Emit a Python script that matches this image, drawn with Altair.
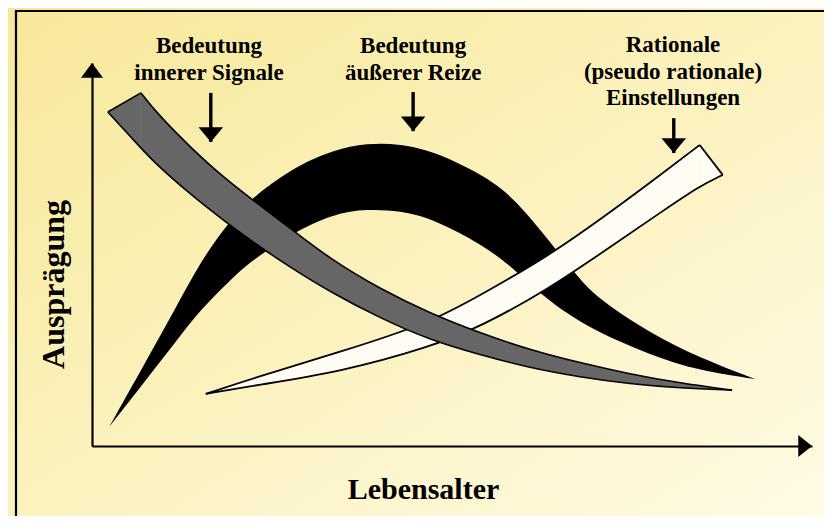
import altair as alt
import pandas as pd

# ---- data (x = Lebensalter 0-100, y = Ausprägung 0-100) ----
GRAY_X = [6.8, 9.0, 13.6, 18.2, 22.9, 27.5, 33.1, 40.0, 46.9, 53.9, 60.8, 67.8, 74.7, 81.7, 88.9]
GRAY_UPPER = [92.2, 86.9, 78.1, 70.2, 63.4, 56.9, 48.8, 41.0, 34.7, 29.5, 25.1, 21.7, 18.8, 16.4, 14.6]
GRAY_LOWER = [77.8, 73.4, 65.8, 59.0, 52.5, 46.7, 40.2, 33.4, 27.7, 23.8, 20.4, 18.0, 16.2, 15.1, 14.6]
GRAY_CAP_X = [2.2, 6.8]
GRAY_CAP_UPPER = [87.2, 92.2]
GRAY_CAP_LOWER = [87.2, 77.8]

BLACK_X = [2.4, 7.6, 11.5, 15.0, 19.2, 21.9, 27.8, 33.5, 38.2, 42.8, 47.4, 54.3, 58.5, 63.2, 67.8, 70.6, 77.5, 84.4, 92.1]
BLACK_UPPER = [5.0, 22.5, 35.5, 48.0, 59.0, 64.2, 72.6, 77.3, 79.1, 78.9, 77.0, 70.8, 65.0, 54.3, 43.3, 38.1, 29.5, 23.0, 17.5]
BLACK_LOWER = [5.0, 17.5, 26.9, 35.5, 43.3, 48.0, 55.6, 60.6, 61.9, 61.4, 59.3, 52.5, 46.5, 38.1, 32.4, 29.5, 23.8, 19.6, 17.5]

WHITE_X = [15.8, 22.9, 34.4, 46.9, 53.9, 63.2, 72.4, 79.3, 84.4]
WHITE_UPPER = [13.6, 18.0, 24.5, 32.1, 39.4, 49.3, 61.6, 71.3, 78.6]
WHITE_LOWER = [13.6, 15.9, 19.3, 25.8, 31.1, 40.7, 52.5, 61.4, 67.9]
WHITE_CAP_X = [84.4, 87.6]
WHITE_CAP_UPPER = [78.6, 70.8]
WHITE_CAP_LOWER = [67.9, 70.8]

LABEL_TEXT = ["Bedeutung", "innerer Signale", "Bedeutung", "äußerer Reize",
              "Rationale", "(pseudo rationale)", "Einstellungen"]
LABEL_X = [16.25, 16.25, 44.6, 44.6, 80.7, 80.7, 80.7]
LABEL_Y = [102.6, 95.6, 102.6, 95.6, 102.9, 95.8, 89.0]

ARROW_X = [16.5, 44.6, 80.8]
ARROW_TOP = [92.2, 92.4, 85.6]
ARROW_TIP = [79.4, 82.2, 76.5]

AXIS_X_END = [100.0]
AXIS_Y_END = [100.0]

FONT = "Liberation Serif"
CURVE = "basis"

# ---- frames ----
gray_body = pd.DataFrame({"x": GRAY_X, "upper": GRAY_UPPER, "lower": GRAY_LOWER})
gray_cap = pd.DataFrame({"x": GRAY_CAP_X, "upper": GRAY_CAP_UPPER, "lower": GRAY_CAP_LOWER})
gray_lower_line = pd.DataFrame({"x": GRAY_CAP_X[:1] + GRAY_X, "y": GRAY_CAP_LOWER[:1] + GRAY_LOWER})
black_body = pd.DataFrame({"x": BLACK_X, "upper": BLACK_UPPER, "lower": BLACK_LOWER})
white_body = pd.DataFrame({"x": WHITE_X, "upper": WHITE_UPPER, "lower": WHITE_LOWER})
white_cap = pd.DataFrame({"x": WHITE_CAP_X, "upper": WHITE_CAP_UPPER, "lower": WHITE_CAP_LOWER})
white_lower_line = pd.DataFrame({"x": WHITE_X + WHITE_CAP_X[1:], "y": WHITE_LOWER + WHITE_CAP_LOWER[1:]})
labels = pd.DataFrame({"text": LABEL_TEXT, "x": LABEL_X, "y": LABEL_Y})
arrows = pd.DataFrame({"x": ARROW_X, "top": ARROW_TOP, "tip": ARROW_TIP})
x_end = pd.DataFrame({"x": AXIS_X_END, "y": [0.0]})
y_end = pd.DataFrame({"x": [0.0], "y": AXIS_Y_END})

xs = alt.Scale(domain=[0, 100], nice=False, zero=False)
ys = alt.Scale(domain=[0, 100], nice=False, zero=False)
xaxis = alt.Axis(title="Lebensalter", labels=False, ticks=False, grid=False,
                 domainColor="black", domainWidth=2.2, zindex=1,
                 titleFont=FONT, titleFontSize=30, titleFontWeight="bold", titleColor="black",
                 titleX=331, titleY=52, titleAlign="center", titleBaseline="alphabetic")
yaxis = alt.Axis(title="Ausprägung", labels=False, ticks=False, grid=False,
                 domainColor="black", domainWidth=2.2, zindex=1,
                 titleFont=FONT, titleFontSize=32, titleFontWeight="bold", titleColor="black",
                 titleAngle=270, titleX=-29, titleY=221, titleAlign="center",
                 titleBaseline="alphabetic")


def X(field="x"):
    return alt.X(field, type="quantitative", scale=xs, axis=xaxis)


def Y(field):
    return alt.Y(field, type="quantitative", scale=ys, axis=yaxis)


bg = alt.Chart(x_end).mark_rect(
    fill=alt.LinearGradient(gradient="linear", x1=0, y1=0, x2=1, y2=1,
                            stops=[alt.GradientStop(color="#f7e899", offset=0),
                                   alt.GradientStop(color="#fbf1bb", offset=0.45),
                                   alt.GradientStop(color="#fffbe6", offset=1)])
).encode(x=alt.value(-84), x2=alt.value(760), y=alt.value(-55), y2=alt.value(460))

frame = alt.Chart(x_end).mark_rect(fillOpacity=0, stroke="black", strokeWidth=2.2).encode(
    x=alt.value(-76), x2=alt.value(800), y=alt.value(-52), y2=alt.value(600))

black = alt.Chart(black_body).mark_area(color="black", interpolate=CURVE).encode(
    x=X(), y=Y("upper"), y2="lower")

WHITE_FILL = "#fffdf3"
white_a = alt.Chart(white_body).mark_area(color=WHITE_FILL, interpolate=CURVE).encode(
    x=X(), y=Y("upper"), y2="lower")
white_c = alt.Chart(white_cap).mark_area(color=WHITE_FILL, interpolate="linear").encode(
    x=X(), y=Y("upper"), y2="lower")
white_up = alt.Chart(white_body).mark_line(color="black", strokeWidth=1.8, interpolate=CURVE).encode(
    x=X(), y=Y("upper"))
white_cut = alt.Chart(white_cap).mark_line(color="black", strokeWidth=1.8).encode(
    x=X(), y=Y("upper"))
white_lo = alt.Chart(white_lower_line).mark_line(color="black", strokeWidth=1.8, interpolate=CURVE).encode(
    x=X(), y=Y("y"))

GRAY_FILL = "#666666"
gray_a = alt.Chart(gray_body).mark_area(color=GRAY_FILL, interpolate=CURVE).encode(
    x=X(), y=Y("upper"), y2="lower")
gray_c = alt.Chart(gray_cap).mark_area(color=GRAY_FILL, interpolate="linear").encode(
    x=X(), y=Y("upper"), y2="lower")
gray_up = alt.Chart(gray_body).mark_line(color="black", strokeWidth=1.6, interpolate=CURVE).encode(
    x=X(), y=Y("upper"))
gray_cut = alt.Chart(gray_cap).mark_line(color="black", strokeWidth=1.6).encode(
    x=X(), y=Y("upper"))
gray_lo = alt.Chart(gray_lower_line).mark_line(color="black", strokeWidth=1.6, interpolate=CURVE).encode(
    x=X(), y=Y("y"))

text = alt.Chart(labels).mark_text(font=FONT, fontSize=23, fontWeight="bold", color="black",
                                   align="center", baseline="alphabetic").encode(
    x=X(), y=Y("y"), text="text:N")

shafts = alt.Chart(arrows).mark_rule(color="black", strokeWidth=3.4).encode(
    x=X(), y=Y("top"), y2="tip")
heads = alt.Chart(arrows).mark_point(shape="M0,0L-1,-1.2L1,-1.2Z", filled=True, color="black",
                                     opacity=1, size=600, strokeWidth=0).encode(
    x=X(), y=Y("tip"))

x_head = alt.Chart(x_end).mark_point(shape="M0,0L-1.25,-1L-1.25,1Z", filled=True, color="black",
                                     opacity=1, size=484, strokeWidth=0).encode(x=X(), y=Y("y"))
y_head = alt.Chart(y_end).mark_point(shape="M0,0L-1,1.35L1,1.35Z", filled=True, color="black",
                                     opacity=1, size=484, strokeWidth=0).encode(x=X(), y=Y("y"))

chart = alt.layer(
    bg, frame, black, white_a, white_c, white_up, white_cut, white_lo,
    gray_a, gray_c, gray_up, gray_cut, gray_lo, text, shafts, heads, x_head, y_head
).properties(
    width=720, height=383,
    padding={"left": 84, "top": 55, "right": 12, "bottom": 70},
    autosize=alt.AutoSizeParams(type="none"),
).configure(background="#f7e899").configure_view(stroke=None)

chart.save("out.html", embed_options={"renderer": "svg", "actions": False})
